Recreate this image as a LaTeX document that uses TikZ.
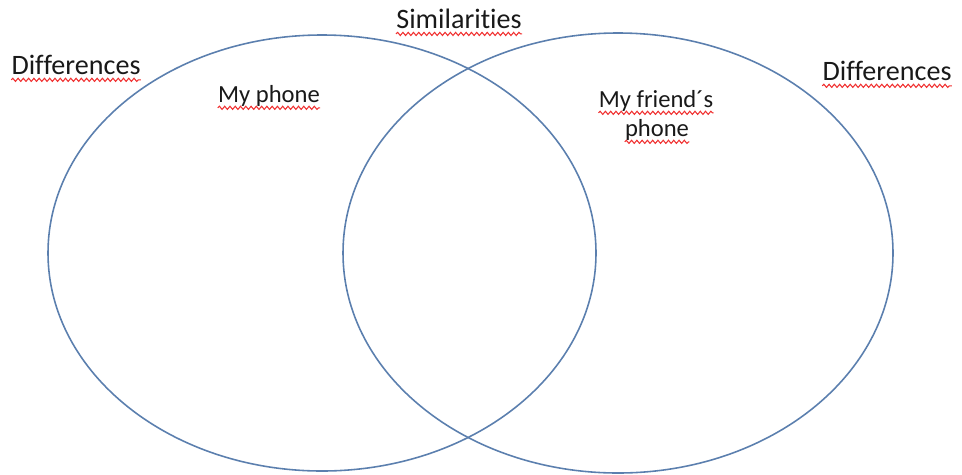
\documentclass[tikz,border=0pt]{standalone}
\usepackage{fontspec}
\setmainfont[Ligatures={NoCommon}]{Carlito}
\usetikzlibrary{decorations.pathmorphing}
\definecolor{setblue}{HTML}{5B7FAE}
\definecolor{spellred}{HTML}{F03030}
\tikzset{
  set/.style={draw=setblue,line width=0.9pt},
  label/.style={font=\fontsize{16}{19}\selectfont,inner sep=0pt,text=black!90},
  inlabel/.style={label,font=\fontsize{14}{17}\selectfont},
  spellmark/.style={draw=spellred,line width=0.6pt,decorate,
    decoration={snake,segment length=3pt,amplitude=0.9pt}}
}
\begin{document}
\begin{tikzpicture}[x=0.02cm,y=-0.02cm]
  \useasboundingbox (0,0) rectangle (962,474);
  % Conjuntos
  \draw[set] (322,253) ellipse [x radius=274, y radius=218];
  \draw[set] (618,253) ellipse [x radius=275, y radius=220];

  % Textos
  \node[label] (sim) at (459,19) {Similarities};
  \node[label] (difl) at (76,65) {Differences};
  \node[label] (difr) at (887,71) {Differences};
  \node[inlabel] (mine) at (269,96) {My phone};
  \node[inlabel] (fr1) at (656,101) {My friend´s};
  \node[inlabel] (fr2) at (657,130) {phone};

  % Subrayado ortográfico
  \foreach \n in {sim, difl, difr, mine, fr1, fr2}
    \draw[spellmark] ([yshift=-3pt]\n.base west) -- ([yshift=-3pt]\n.base east);
\end{tikzpicture}
\end{document}
